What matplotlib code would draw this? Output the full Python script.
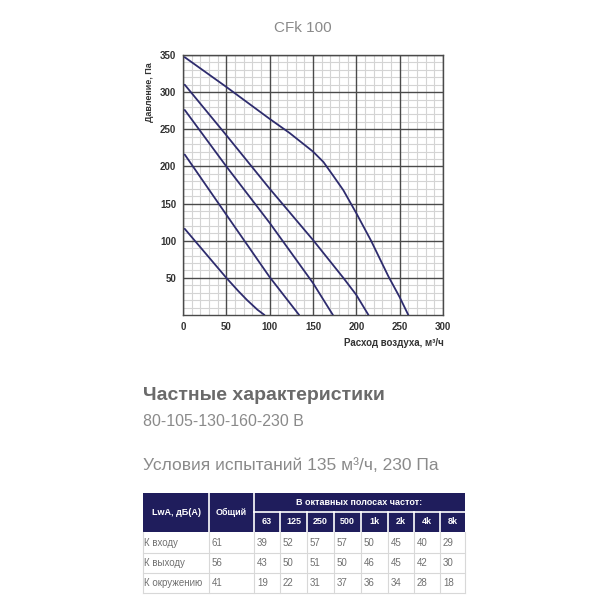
import matplotlib
matplotlib.use("Agg")
import matplotlib.pyplot as plt
from matplotlib.patches import Rectangle
import numpy as np

plt.rcParams['font.family'] = ['Liberation Sans', 'DejaVu Sans']

# ---- data ----
curve1_x = [2, 50, 100, 123, 150, 162, 173, 185, 200, 217, 237, 250, 260]
curve1_y = [347, 307, 264, 245, 220, 206, 188, 168, 137, 100, 52, 24, 0]
curve2_x = [2, 50, 100, 150, 185, 200, 214]
curve2_y = [310, 242, 170, 101, 50, 27, 0]
curve3_x = [2, 50, 100, 150, 173]
curve3_y = [276, 200, 124, 43, 0]
curve4_x = [2, 50, 100, 134]
curve4_y = [216, 135, 51, 0]
curve5_x = [2, 50, 64, 74, 86, 94]
curve5_y = [116, 50, 32, 20, 7, 0]
curves = [(curve1_x, curve1_y), (curve2_x, curve2_y), (curve3_x, curve3_y),
          (curve4_x, curve4_y), (curve5_x, curve5_y)]

x_ticks = [0, 50, 100, 150, 200, 250, 300]
y_ticks = [50, 100, 150, 200, 250, 300, 350]

title = "CFk 100"
x_label = "Расход воздуха, м³/ч"
y_label = "Давление, Па"
subtitle = "Частные характеристики"
voltages = "80-105-130-160-230 В"
conditions = "Условия испытаний 135 м³/ч, 230 Па"

tbl_head1 = "LwA, дБ(А)"
tbl_head2 = "Общий"
tbl_band_title = "В октавных полосах частот:"
bands = ["63", "125", "250", "500", "1k", "2k", "4k", "8k"]
row_names = ["К входу", "К выходу", "К окружению"]
row_total = [61, 56, 41]
row_bands = [[39, 52, 57, 57, 50, 45, 40, 29],
             [43, 50, 51, 50, 46, 45, 42, 30],
             [19, 22, 31, 37, 36, 34, 28, 18]]

# ---- figure ----
W = H = 600
fig = plt.figure(figsize=(6, 6), dpi=100)
fig.patch.set_facecolor("white")

def fx(px):
    return px / W

def fy(py):
    return 1 - py / H

ax = fig.add_axes([fx(183), fy(315), 260 / W, 260 / H])
ax.set_xlim(0, 300)
ax.set_ylim(0, 350)
ax.set_xticks(x_ticks)
ax.set_yticks(y_ticks)

minor_x = [v for v in range(10, 300, 10) if v % 50]
minor_y = [v for v in range(10, 350, 10) if v % 50]
for v in minor_x:
    ax.axvline(v, color="#d4d4d4", linewidth=0.8, zorder=0.5)
for v in minor_y:
    ax.axhline(v, color="#d4d4d4", linewidth=0.8, zorder=0.5)
for v in x_ticks:
    ax.axvline(v, color="#4a4a4a", linewidth=1.0, zorder=1)
for v in y_ticks:
    ax.axhline(v, color="#4a4a4a", linewidth=1.0, zorder=1)

ax.tick_params(which="both", length=0, labelsize=7, colors="#333333", pad=5)
for lab in ax.get_xticklabels() + ax.get_yticklabels():
    lab.set_fontweight("bold")
for s in ax.spines.values():
    s.set_color("#4a4a4a")
    s.set_linewidth(1.0)

line_color = "#2e2c6e"
for cx, cy in curves:
    ax.plot(cx, cy, color=line_color, linewidth=1.3, solid_capstyle="round",
            solid_joinstyle="round", zorder=3)

# overlay axes in pixel coords
ov = fig.add_axes([0, 0, 1, 1], zorder=-1)
ov.set_xlim(0, W)
ov.set_ylim(H, 0)
ov.axis("off")

ov.text(303, 28, title, ha="center", va="center", fontsize=11, color="#8a8a8a")
ov.text(150, 62, y_label, ha="center", va="top", rotation=90, fontsize=6.5,
        fontweight="bold", color="#333333")
ov.text(444, 343, x_label, ha="right", va="center", fontsize=7,
        fontweight="bold", color="#333333")

ov.text(143, 395, subtitle, ha="left", va="center", fontsize=14,
        fontweight="bold", color="#6a6a6a")
ov.text(143, 422, voltages, ha="left", va="center", fontsize=11.5, color="#8a8a8a")
ov.text(143, 465, conditions, ha="left", va="center", fontsize=12.5, color="#8a8a8a")

# ---- table ----
hdr = "#1f1d5c"
col_edges = [143, 209, 254, 280, 307, 334, 361, 388, 414, 440, 465]
y_top, y_mid, y_hdr_bot = 493, 512, 532
row_edges = [532, 553, 573, 593]

ov.add_patch(Rectangle((col_edges[0], y_top), col_edges[-1] - col_edges[0],
                       y_hdr_bot - y_top, facecolor=hdr, edgecolor="none"))
for xe in [209, 254]:
    ov.plot([xe, xe], [y_top, y_hdr_bot], color="white", linewidth=1.2)
for xe in col_edges[3:-1]:
    ov.plot([xe, xe], [y_mid, y_hdr_bot], color="white", linewidth=1.2)
ov.plot([254, 465], [y_mid, y_mid], color="white", linewidth=1.2)

ov.text((143 + 209) / 2, (y_top + y_hdr_bot) / 2, tbl_head1, ha="center", va="center",
        fontsize=6.5, fontweight="bold", color="white")
ov.text((209 + 254) / 2, (y_top + y_hdr_bot) / 2, tbl_head2, ha="center", va="center",
        fontsize=6.5, fontweight="bold", color="white")
ov.text((254 + 465) / 2, (y_top + y_mid) / 2, tbl_band_title, ha="center", va="center",
        fontsize=6.5, fontweight="bold", color="white")
for i, b in enumerate(bands):
    ov.text((col_edges[i + 2] + col_edges[i + 3]) / 2, (y_mid + y_hdr_bot) / 2, b,
            ha="center", va="center", fontsize=6.5, fontweight="bold", color="white")

grid_c = "#d8d8d8"
for ye in row_edges[1:]:
    ov.plot([143, 465], [ye, ye], color=grid_c, linewidth=0.8)
for xe in col_edges:
    ov.plot([xe, xe], [row_edges[0], row_edges[-1]], color=grid_c, linewidth=0.8)

txt_c = "#707070"
for r, name in enumerate(row_names):
    yc = (row_edges[r] + row_edges[r + 1]) / 2
    ov.text(col_edges[0] + 1, yc, name, ha="left", va="center", fontsize=7, color=txt_c)
    ov.text(col_edges[1] + 3, yc, str(row_total[r]), ha="left", va="center",
            fontsize=7, color=txt_c)
    for i, v in enumerate(row_bands[r]):
        ov.text(col_edges[i + 2] + 3, yc, str(v), ha="left", va="center",
                fontsize=7, color=txt_c)

fig.savefig("out.png", dpi=100, facecolor="white")
